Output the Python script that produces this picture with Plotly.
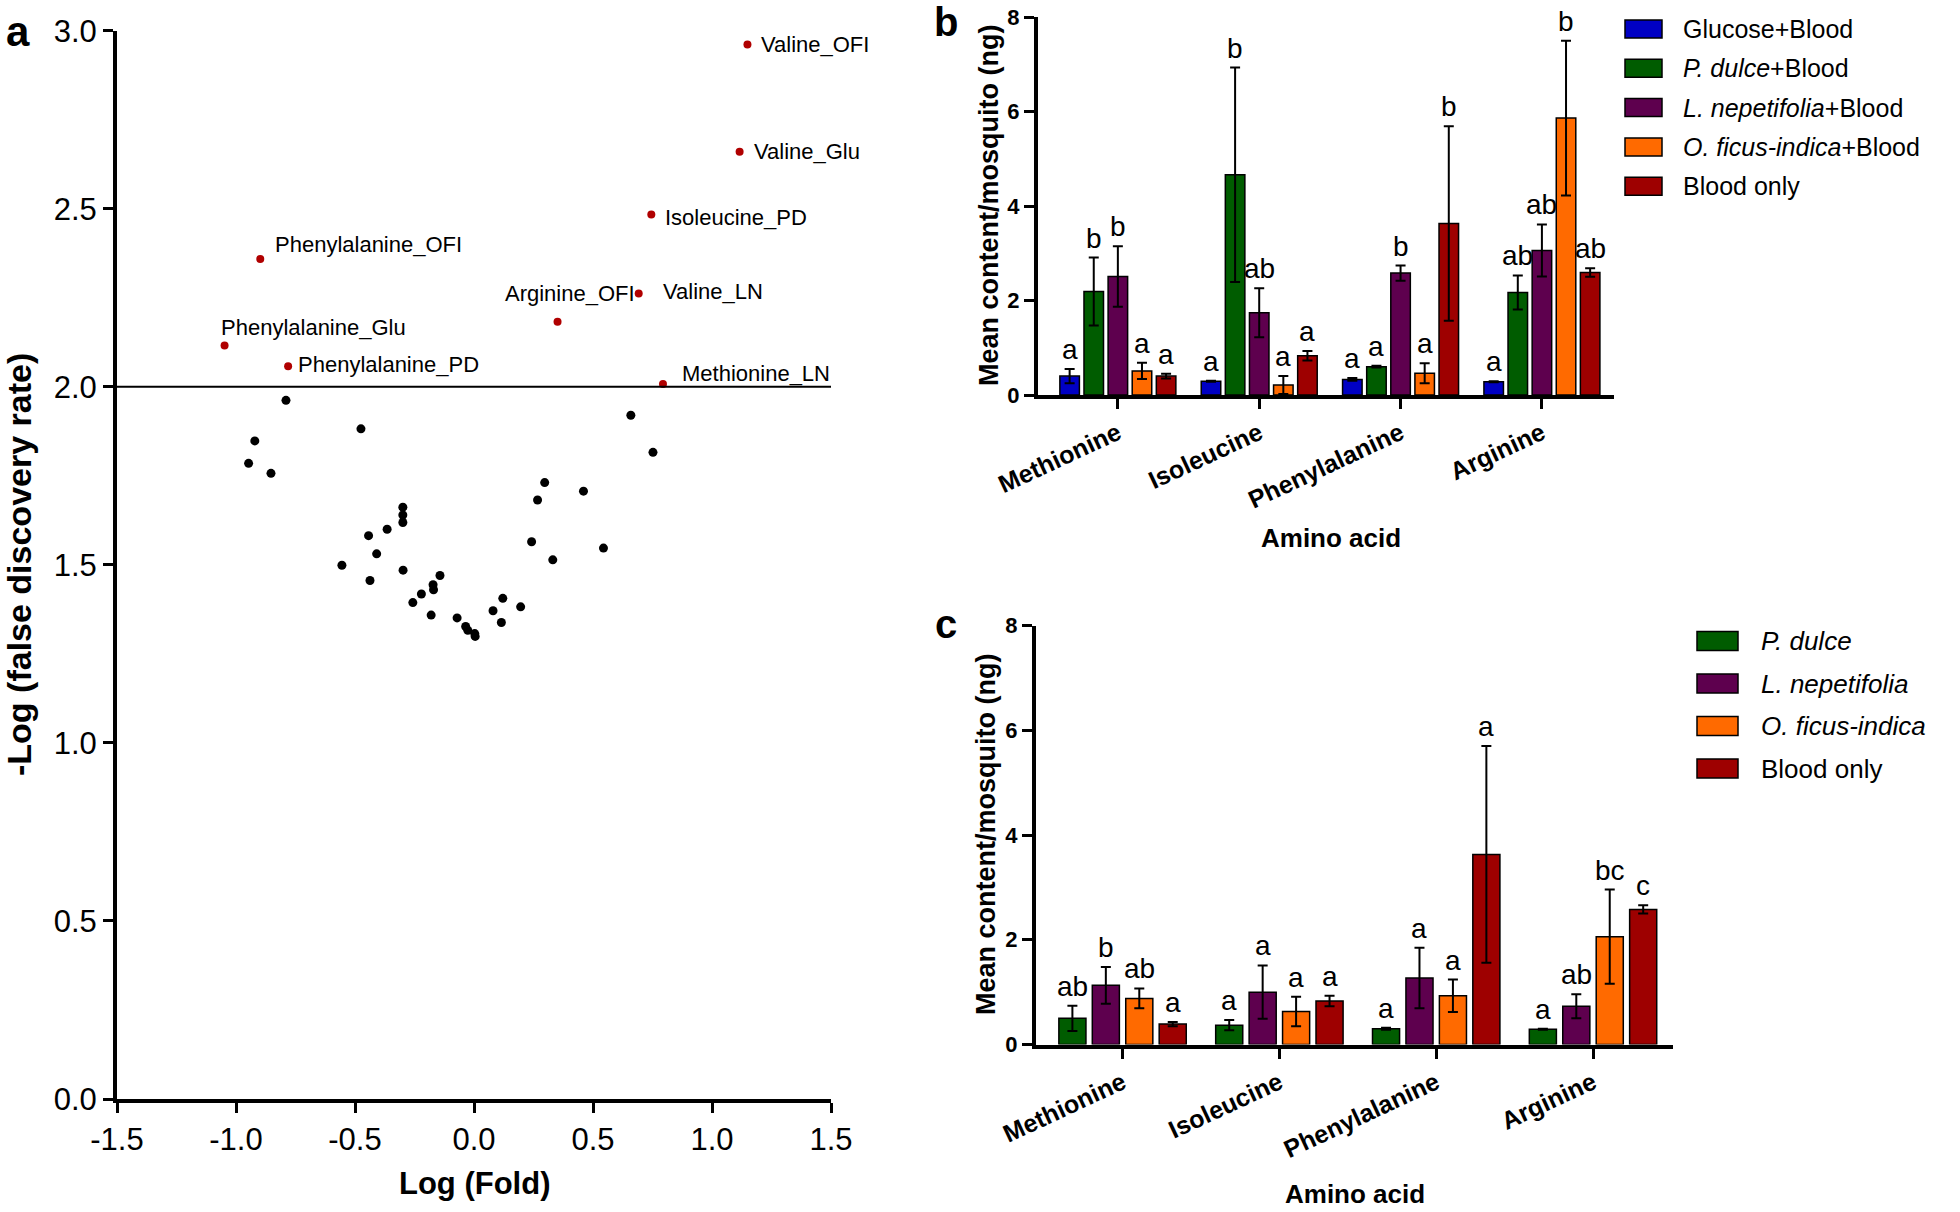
import plotly.graph_objects as go

W, H = 1960, 1212
FONT = "Arial, 'Liberation Sans', sans-serif"

# ---- panel a : volcano plot ----
sig_labels = ["Valine_OFI", "Valine_Glu", "Isoleucine_PD", "Phenylalanine_OFI", "Valine_LN",
              "Arginine_OFI", "Phenylalanine_Glu", "Phenylalanine_PD", "Methionine_LN"]
sig_log_fold = [1.149, 1.116, 0.745, -0.898, 0.692, 0.351, -1.048, -0.781, 0.794]
sig_fdr = [2.961, 2.660, 2.484, 2.359, 2.262, 2.183, 2.116, 2.058, 2.008]

ns_log_fold = [-0.790, -0.475, -0.921, -0.947, -0.853, 0.659, 0.752, 0.297, 0.267, 0.460,
               0.242, 0.544, 0.331, -0.299, -0.299, -0.299, -0.365, -0.443, -0.409, -0.555,
               -0.437, -0.298, -0.143, -0.172, -0.170, -0.221, -0.257, -0.180, -0.071, -0.035,
               -0.026, 0.003, 0.005, 0.080, 0.121, 0.115, 0.196]
ns_fdr = [1.962, 1.882, 1.848, 1.785, 1.757, 1.920, 1.816, 1.731, 1.682, 1.707,
          1.565, 1.547, 1.514, 1.662, 1.640, 1.619, 1.600, 1.582, 1.531, 1.499,
          1.456, 1.485, 1.470, 1.444, 1.430, 1.418, 1.394, 1.359, 1.351, 1.327,
          1.316, 1.307, 1.299, 1.371, 1.406, 1.338, 1.382]

fdr_threshold = 2.0
a_xticks = [-1.5, -1.0, -0.5, 0.0, 0.5, 1.0, 1.5]
a_xticktext = ["-1.5", "-1.0", "-0.5", "0.0", "0.5", "1.0", "1.5"]
a_yticks = [0.0, 0.5, 1.0, 1.5, 2.0, 2.5, 3.0]
a_yticktext = ["0.0", "0.5", "1.0", "1.5", "2.0", "2.5", "3.0"]

# ---- panels b and c : amino acid content ----
amino = ["Methionine", "Isoleucine", "Phenylalanine", "Arginine"]

b_names = ["Glucose+Blood", "<i>P. dulce</i>+Blood", "<i>L. nepetifolia</i>+Blood",
           "<i>O. ficus-indica</i>+Blood", "Blood only"]
b_glucose = [0.40, 0.29, 0.33, 0.28]
b_glucose_err = [0.15, 0.01, 0.03, 0.01]
b_pdulce = [2.19, 4.66, 0.60, 2.17]
b_pdulce_err = [0.72, 2.27, 0.02, 0.36]
b_lnep = [2.51, 1.74, 2.58, 3.06]
b_lnep_err = [0.64, 0.52, 0.16, 0.55]
b_ofi = [0.51, 0.21, 0.46, 5.86]
b_ofi_err = [0.17, 0.19, 0.21, 1.64]
b_blood = [0.40, 0.83, 3.63, 2.59]
b_blood_err = [0.05, 0.10, 2.06, 0.09]
b_letters = [["a", "a", "a", "a"], ["b", "b", "a", "ab"], ["b", "ab", "b", "ab"],
             ["a", "a", "a", "b"], ["a", "a", "b", "ab"]]

c_names = ["<i>P. dulce</i>", "<i>L. nepetifolia</i>", "<i>O. ficus-indica</i>", "Blood only"]
c_pdulce = [0.50, 0.37, 0.30, 0.29]
c_pdulce_err = [0.24, 0.10, 0.02, 0.01]
c_lnep = [1.13, 1.00, 1.27, 0.73]
c_lnep_err = [0.35, 0.51, 0.58, 0.23]
c_ofi = [0.88, 0.63, 0.93, 2.06]
c_ofi_err = [0.19, 0.28, 0.31, 0.90]
c_blood = [0.39, 0.83, 3.63, 2.58]
c_blood_err = [0.04, 0.10, 2.07, 0.08]
c_letters = [["ab", "a", "a", "a"], ["b", "a", "a", "ab"], ["ab", "a", "a", "bc"],
             ["a", "a", "a", "c"]]

BLUE, GREEN, PURPLE, ORANGE, RED = "#0000C4", "#005C00", "#5E004E", "#FF6A00", "#9E0000"
b_colors = [BLUE, GREEN, PURPLE, ORANGE, RED]
c_colors = [GREEN, PURPLE, ORANGE, RED]

BARGAP, GROUPGAP = 0.147, 0.19


def px(x):
    return x / W


def py(y):
    return 1 - y / H


fig = go.Figure()

fig.add_trace(go.Scatter(x=ns_log_fold, y=ns_fdr, mode="markers", showlegend=False,
                         marker=dict(color="black", size=9), xaxis="x", yaxis="y"))
fig.add_trace(go.Scatter(x=sig_log_fold, y=sig_fdr, mode="markers", showlegend=False,
                         marker=dict(color="#B00000", size=8), xaxis="x", yaxis="y"))

b_series = [(b_glucose, b_glucose_err), (b_pdulce, b_pdulce_err), (b_lnep, b_lnep_err),
            (b_ofi, b_ofi_err), (b_blood, b_blood_err)]
c_series = [(c_pdulce, c_pdulce_err), (c_lnep, c_lnep_err), (c_ofi, c_ofi_err),
            (c_blood, c_blood_err)]

annotations = []


def add_panel(series, names, colors, letters, xa, ya):
    n = len(series)
    slot = (1 - BARGAP) / n
    for k, ((vals, errs), name, color) in enumerate(zip(series, names, colors)):
        fig.add_trace(go.Bar(
            x=amino, y=vals, name=name, showlegend=False, xaxis=xa, yaxis=ya,
            marker=dict(color=color, line=dict(color="black", width=1.5)),
            error_y=dict(type="data", array=errs, color="black", thickness=2, width=5)))
        for i, (v, e, t) in enumerate(zip(vals, errs, letters[k])):
            annotations.append(dict(
                x=i + (k - (n - 1) / 2) * slot, y=v + e, xref=xa, yref=ya, text=t,
                showarrow=False, yanchor="bottom", yshift=2,
                font=dict(family=FONT, size=28, color="black")))


add_panel(b_series, b_names, b_colors, b_letters, "x2", "y2")
add_panel(c_series, c_names, c_colors, c_letters, "x3", "y3")

# point labels in panel a (anchor, xshift, yshift)
label_pos = {
    "Valine_OFI": ("left", 12, 0), "Valine_Glu": ("left", 12, 0),
    "Isoleucine_PD": ("left", 12, -3), "Phenylalanine_OFI": ("left", 13, 14),
    "Valine_LN": ("left", 22, 2), "Arginine_OFI": ("center", 12, 28),
    "Phenylalanine_Glu": ("left", -6, 18), "Phenylalanine_PD": ("left", 8, 2),
    "Methionine_LN": ("left", 17, 10),
}
for lab, x, y in zip(sig_labels, sig_log_fold, sig_fdr):
    anc, dx, dy = label_pos[lab]
    annotations.append(dict(x=x, y=y, xref="x", yref="y", text=lab, showarrow=False,
                            xanchor=anc, yanchor="middle", xshift=dx, yshift=dy,
                            font=dict(family=FONT, size=22, color="black")))


def text(x, y, t, size, bold=True, angle=0, anchor="center"):
    annotations.append(dict(x=px(x), y=py(y), xref="paper", yref="paper", text=t,
                            showarrow=False, textangle=angle, xanchor=anchor, yanchor="middle",
                            font=dict(family=FONT, size=size, color="black",
                                      weight="bold" if bold else "normal")))


# panel letters and axis titles
text(18, 32, "a", 42)
text(946, 22, "b", 40)
text(946, 624, "c", 40)
text(19, 565, "-Log (false discovery rate)", 34, angle=-90)
text(475, 1183, "Log (Fold)", 31)
text(989, 206, "Mean content/mosquito (ng)", 27, angle=-90)
text(1331, 538, "Amino acid", 26)
text(986, 835, "Mean content/mosquito (ng)", 27, angle=-90)
text(1355, 1194, "Amino acid", 26)

# hand-drawn legends
shapes = [dict(type="line", xref="x", yref="y", x0=-1.5, x1=1.5, y0=fdr_threshold,
               y1=fdr_threshold, line=dict(color="black", width=2))]


def legend(names, colors, x0, w, h, y_first, step, tx, size):
    for i, (nm, col) in enumerate(zip(names, colors)):
        yc = y_first + i * step
        shapes.append(dict(type="rect", xref="paper", yref="paper", x0=px(x0), x1=px(x0 + w),
                           y0=py(yc + h / 2), y1=py(yc - h / 2), fillcolor=col,
                           line=dict(color="black", width=1.5)))
        text(tx, yc, nm, size, bold=False, anchor="left")


legend(b_names, b_colors, 1625, 37, 18, 29, 39.3, 1681, 25)
legend(c_names, c_colors, 1697, 41, 19, 641, 42.5, 1759, 26)

axis_style = dict(showline=True, linecolor="black", linewidth=4, ticks="outside", ticklen=10,
                  tickwidth=3, tickcolor="black", showgrid=False, zeroline=False, mirror=False,
                  automargin=False)
bar_tickfont = dict(family=FONT, size=22, color="black", weight="bold")
cat_tickfont = dict(family=FONT, size=25, color="black", weight="bold")

fig.update_layout(
    template="none",
    width=W, height=H, margin=dict(l=0, r=0, t=0, b=0, pad=0), autosize=False,
    paper_bgcolor="white", plot_bgcolor="white",
    barmode="group", bargap=BARGAP, bargroupgap=GROUPGAP,
    font=dict(family=FONT, color="black"),
    xaxis=dict(axis_style, domain=[px(117), px(831)], range=[-1.5, 1.5],
               tickvals=a_xticks, ticktext=a_xticktext, anchor="y",
               tickfont=dict(family=FONT, size=31, color="black")),
    yaxis=dict(axis_style, domain=[py(1099), py(30.7)], range=[0, 3.0],
               tickvals=a_yticks, ticktext=a_yticktext, anchor="x",
               tickfont=dict(family=FONT, size=31, color="black")),
    xaxis2=dict(axis_style, domain=[px(1038), px(1614)], range=[-0.565, 3.51], type="category",
                anchor="y2", tickangle=-25, tickfont=cat_tickfont),
    yaxis2=dict(axis_style, domain=[py(395), py(17)], range=[0, 8], dtick=2, anchor="x2",
                tickfont=bar_tickfont),
    xaxis3=dict(axis_style, domain=[px(1036), px(1673)], range=[-0.552, 3.51], type="category",
                anchor="y3", tickangle=-25, tickfont=cat_tickfont),
    yaxis3=dict(axis_style, domain=[py(1044.5), py(625.6)], range=[0, 8], dtick=2, anchor="x3",
                tickfont=bar_tickfont),
    annotations=annotations, shapes=shapes, showlegend=False,
)

fig.write_html("out.html", config={"displayModeBar": False},
               post_script="document.body.style.margin='0';")
